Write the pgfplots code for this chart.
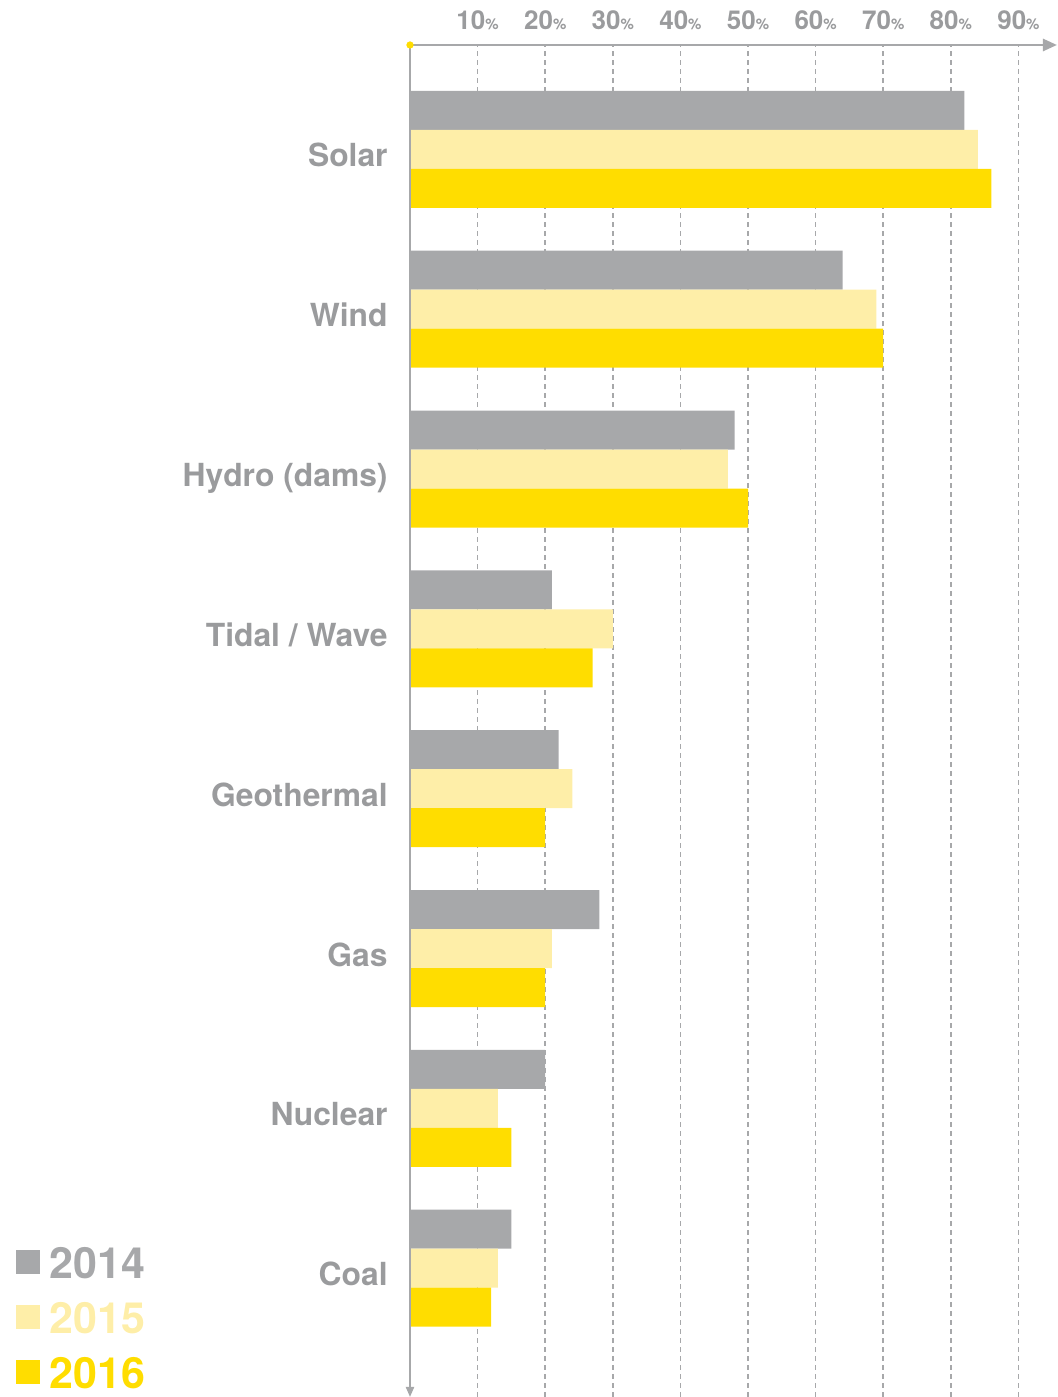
\documentclass[border=0pt]{standalone}
\usepackage{fontspec}
\setmainfont{TeX Gyre Heros}
\usepackage{pgfplots}
\pgfplotsset{compat=1.18}
\usetikzlibrary{arrows.meta}

\definecolor{bargray}{HTML}{A7A8AA}
\definecolor{txtgray}{HTML}{9A9B9D}
\definecolor{lightyel}{HTML}{FEEEA8}
\definecolor{yel}{HTML}{FFDD00}

\newcommand{\pc}[1]{#1{\fontsize{7.5}{7.5}\selectfont\%}}

\begin{document}
\begin{tikzpicture}
\useasboundingbox (0,0) rectangle (528.5pt,698.5pt);
\begin{axis}[
  at={(205pt,0pt)}, anchor=south west,
  scale only axis, width=323.5pt, height=676pt,
  xmin=0, xmax=95.7,
  ymin=-0.806, ymax=7.653,
  axis line style={draw=none},
  xbar, bar width=19.5pt,
  clip=false,
  xtick={10,20,...,90},
  xticklabels={\pc{10},\pc{20},\pc{30},\pc{40},\pc{50},\pc{60},\pc{70},\pc{80},\pc{90}},
  xticklabel pos=top,
  xticklabel style={font=\bfseries\fontsize{13}{13}\selectfont, text=txtgray, anchor=base, inner sep=0pt, yshift=7.5pt},
  xticklabel shift=0pt,
  ytick={0,...,7},
  yticklabels={Coal,Nuclear,Gas,Geothermal,Tidal / Wave,Hydro (dams),Wind,Solar},
  yticklabel style={font=\bfseries\fontsize{15.9}{15.9}\selectfont, text=txtgray, anchor=base east, inner sep=0pt, yshift=-8.75pt},
  yticklabel shift=11pt,
  major tick length=0pt,
  xmajorgrids,
  major grid style={bargray, line width=0.8pt, dash pattern=on 2.5pt off 2pt},
  legend style={at={(-200pt,2pt)}, anchor=south west, draw=none, fill=none,
    font=\bfseries\fontsize{21.5}{21.5}\selectfont,
    nodes={inner sep=0pt, text height=16.5pt, text depth=0pt, anchor=west},
    row sep=11pt},
  legend cell align=left,
  legend image code/.code={\fill[#1] (0pt,-6pt) rectangle (12pt,6pt);},
  /tikz/every odd column/.style={column sep=4.5pt},
]
\addplot[fill=bargray, draw=none, bar shift=19.5pt] coordinates {
  (15,0) (20,1) (28,2) (22,3) (21,4) (48,5) (64,6) (82,7)};
\addplot[fill=lightyel, draw=none, bar shift=0pt] coordinates {
  (13,0) (13,1) (21,2) (24,3) (30,4) (47,5) (69,6) (84,7)};
\addplot[fill=yel, draw=none, bar shift=-19.5pt] coordinates {
  (12,0) (15,1) (20,2) (20,3) (27,4) (50,5) (70,6) (86,7)};
\addlegendentry{\textcolor{bargray}{2014}}
\addlegendentry{\textcolor{lightyel}{2015}}
\addlegendentry{\textcolor{yel}{2016}}
\draw[bargray, line width=1.3pt, -{Triangle[length=7pt,width=6pt]}]
  (rel axis cs:0,1) -- (rel axis cs:1,1);
\draw[bargray, line width=1pt, -{Triangle[length=5pt,width=4pt]}]
  (rel axis cs:0,1) -- (rel axis cs:0,0);
\addplot[only marks, mark=*, mark size=1.6pt, yel, forget plot] coordinates {(0,7.653)};
\end{axis}
\end{tikzpicture}
\end{document}
